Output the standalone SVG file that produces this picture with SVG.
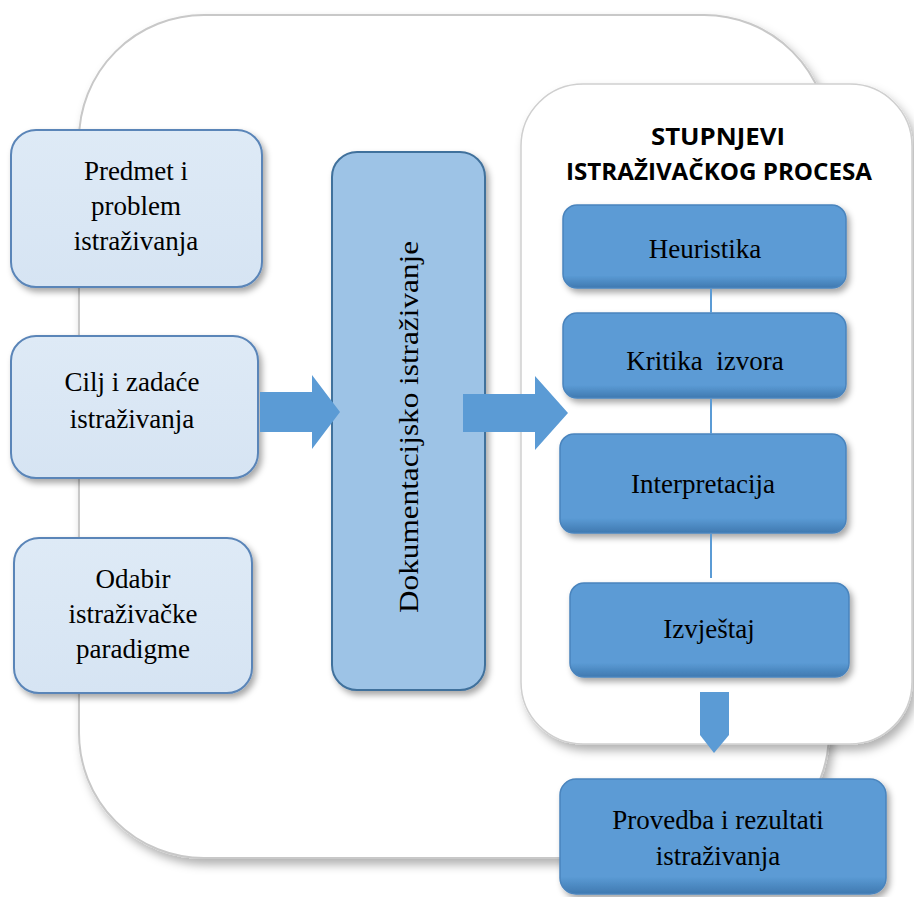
<svg xmlns="http://www.w3.org/2000/svg" width="914" height="897" viewBox="0 0 914 897">
<defs>
  <filter id="sh" x="-20%" y="-20%" width="140%" height="140%">
    <feDropShadow dx="3" dy="4" stdDeviation="3" flood-color="#000" flood-opacity="0.35"/>
  </filter>
  <filter id="shBig" x="-10%" y="-10%" width="125%" height="125%">
    <feDropShadow dx="4" dy="6" stdDeviation="5" flood-color="#000" flood-opacity="0.3"/>
  </filter>
  <linearGradient id="gBlue" x1="0" y1="0" x2="0" y2="1">
    <stop offset="0" stop-color="#5b9bd5"/>
    <stop offset="0.85" stop-color="#5b9bd5"/>
    <stop offset="1" stop-color="#3f79b0"/>
  </linearGradient>
  <linearGradient id="gLight" x1="0" y1="0" x2="0" y2="1">
    <stop offset="0" stop-color="#deeaf6"/>
    <stop offset="1" stop-color="#d6e4f3"/>
  </linearGradient>
  <style>
    .light { fill: url(#gLight); stroke: #5a85b8; stroke-width: 2; filter: url(#sh); }
    .mid { fill: #9dc3e6; stroke: #41719c; stroke-width: 2; filter: url(#sh); }
    .blue { fill: url(#gBlue); stroke: #4a84bd; stroke-width: 1.5; filter: url(#sh); }
    .t { font-family: "Liberation Serif", "Times New Roman", serif; font-size: 27px; fill: #000; text-anchor: middle; white-space: pre; }
    .title { font-family: "Open Sans", "Liberation Sans", sans-serif; font-weight: bold; font-size: 23px; fill: #000; text-anchor: middle; }
    .arrow { fill: #5b9bd5; }
    .link { stroke: #5b9bd5; stroke-width: 2; fill: none; }
  </style>
</defs>

<g id="background">
  <rect x="79" y="15" width="750" height="843" rx="125" ry="125" fill="#fff" stroke="#c8c8c8" stroke-width="2" filter="url(#shBig)"/>
</g>

<g id="stupnjevi-panel">
  <rect x="521" y="84" width="391" height="660" rx="62" ry="62" fill="#fff" stroke="#cfcfcf" stroke-width="1.5" filter="url(#shBig)"/>
  <text class="title" x="718" y="145" textLength="134" lengthAdjust="spacingAndGlyphs">STUPNJEVI</text>
  <text class="title" x="719" y="180" textLength="306" lengthAdjust="spacingAndGlyphs">ISTRAŽIVAČKOG PROCESA</text>
</g>

<g id="predmet">
  <rect class="light" x="11" y="130" width="251" height="157" rx="25"/>
  <text class="t" x="136" y="180">Predmet i</text>
  <text class="t" x="136" y="215">problem</text>
  <text class="t" x="136" y="250">istraživanja</text>
</g>

<g id="cilj">
  <rect class="light" x="11" y="336" width="247" height="142" rx="25"/>
  <text class="t" x="132" y="391">Cilj i zadaće</text>
  <text class="t" x="132" y="428">istraživanja</text>
</g>

<g id="odabir">
  <rect class="light" x="14" y="538" width="238" height="155" rx="25"/>
  <text class="t" x="133" y="588">Odabir</text>
  <text class="t" x="133" y="623">istraživačke</text>
  <text class="t" x="133" y="658">paradigme</text>
</g>

<g id="dokumentacijsko">
  <rect class="mid" x="332" y="152" width="153" height="538" rx="25"/>
  <text class="t" x="0" y="0" transform="translate(418,427) rotate(-90)" font-size="29" textLength="372" lengthAdjust="spacingAndGlyphs">Dokumentacijsko istraživanje</text>
</g>

<g id="heuristika">
  <rect class="blue" x="563" y="205" width="283" height="83" rx="14"/>
  <text class="t" x="705" y="258">Heuristika</text>
</g>

<g id="kritika">
  <rect class="blue" x="563" y="313" width="283" height="85" rx="14"/>
  <text class="t" x="705" y="370">Kritika  izvora</text>
</g>

<g id="interpretacija">
  <rect class="blue" x="560" y="434" width="286" height="99" rx="14"/>
  <text class="t" x="703" y="493">Interpretacija</text>
</g>

<g id="izvjestaj">
  <rect class="blue" x="570" y="583" width="279" height="94" rx="14"/>
  <text class="t" x="709" y="638">Izvještaj</text>
</g>

<g id="provedba">
  <rect class="blue" x="560" y="779" width="326" height="115" rx="16"/>
  <text class="t" x="718" y="829">Provedba i rezultati</text>
  <text class="t" x="718" y="865">istraživanja</text>
</g>

<g id="connectors">
  <line class="link" x1="711" y1="289" x2="711" y2="313"/>
  <line class="link" x1="711" y1="399" x2="711" y2="434"/>
  <line class="link" x1="711" y1="534" x2="711" y2="578"/>
  <polygon class="arrow" points="260,392 312,392 312,375 340,412 312,449 312,432 260,432"/>
  <polygon class="arrow" points="463,394 535,394 535,376 568,413 535,450 535,432 463,432"/>
  <polygon class="arrow" points="700,692 729,692 729,735 714,753 700,735"/>
</g>
</svg>
